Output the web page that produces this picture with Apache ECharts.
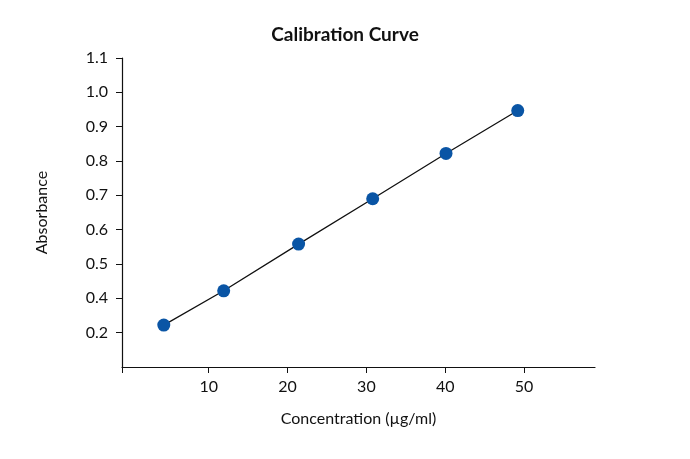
<!DOCTYPE html>
<html><head><meta charset="utf-8">
<script src="https://cdn.jsdelivr.net/npm/echarts@6/dist/echarts.min.js"></script>
<style>html,body{margin:0;background:#fff}#c{width:690px;height:459px}</style>
</head><body><div id="c"></div>
<script>
const concentration = [4.3, 11.9, 21.4, 30.8, 40.1, 49.2];
const absorbance = [0.322, 0.422, 0.558, 0.690, 0.822, 0.947];
const xTicks = [-1, 10, 20, 30, 40, 50];
const xLabels = [10, 20, 30, 40, 50];
// tick labels exactly as printed on the reference (its lowest tick is labelled "0.2")
const yTickValues = [0.3, 0.4, 0.5, 0.6, 0.7, 0.8, 0.9, 1.0, 1.1];
const yTickLabels = ['0.2', '0.4', '0.5', '0.6', '0.7', '0.8', '0.9', '1.0', '1.1'];
const pts = concentration.map((c, i) => [c, absorbance[i]]);
const font = 'Lato';
const chart = echarts.init(document.getElementById('c'));
chart.setOption({
  animation: false,
  title: { text: 'Calibration Curve', left: 'center', top: 20,
    textStyle: { fontFamily: font, fontSize: 19, fontWeight: 'bold', color: '#111' } },
  grid: { left: 122, right: 95, top: 58, bottom: 92 },
  xAxis: { type: 'value', min: -1, max: 59,
    name: 'Concentration (µg/ml)', nameLocation: 'middle', nameGap: 44,
    nameTextStyle: { fontFamily: font, fontSize: 16, color: '#111' },
    splitLine: { show: false },
    axisLine: { onZero: false, lineStyle: { color: '#111', width: 1.2 } },
    axisTick: { length: 6, lineStyle: { color: '#111' }, customValues: xTicks },
    axisLabel: { fontFamily: font, fontSize: 16, color: '#111', margin: 12, customValues: xLabels } },
  yAxis: { type: 'value', min: 0.2, max: 1.1,
    name: 'Absorbance', nameLocation: 'middle', nameGap: 72,
    nameTextStyle: { fontFamily: font, fontSize: 16, color: '#111' },
    splitLine: { show: false },
    axisLine: { show: true, onZero: false, lineStyle: { color: '#111', width: 1.2 } },
    axisTick: { show: true, length: 6, lineStyle: { color: '#111' }, customValues: yTickValues },
    axisLabel: { fontFamily: font, fontSize: 16, color: '#111', margin: 14, customValues: yTickValues,
      formatter: v => { const i = yTickValues.findIndex(t => Math.abs(t - v) < 1e-6); return i >= 0 ? yTickLabels[i] : ''; } } },
  series: [{ type: 'line', data: pts, symbol: 'circle', symbolSize: 13,
    lineStyle: { color: '#111', width: 1.3 },
    itemStyle: { color: '#0a55a5' } }]
});
</script></body></html>
